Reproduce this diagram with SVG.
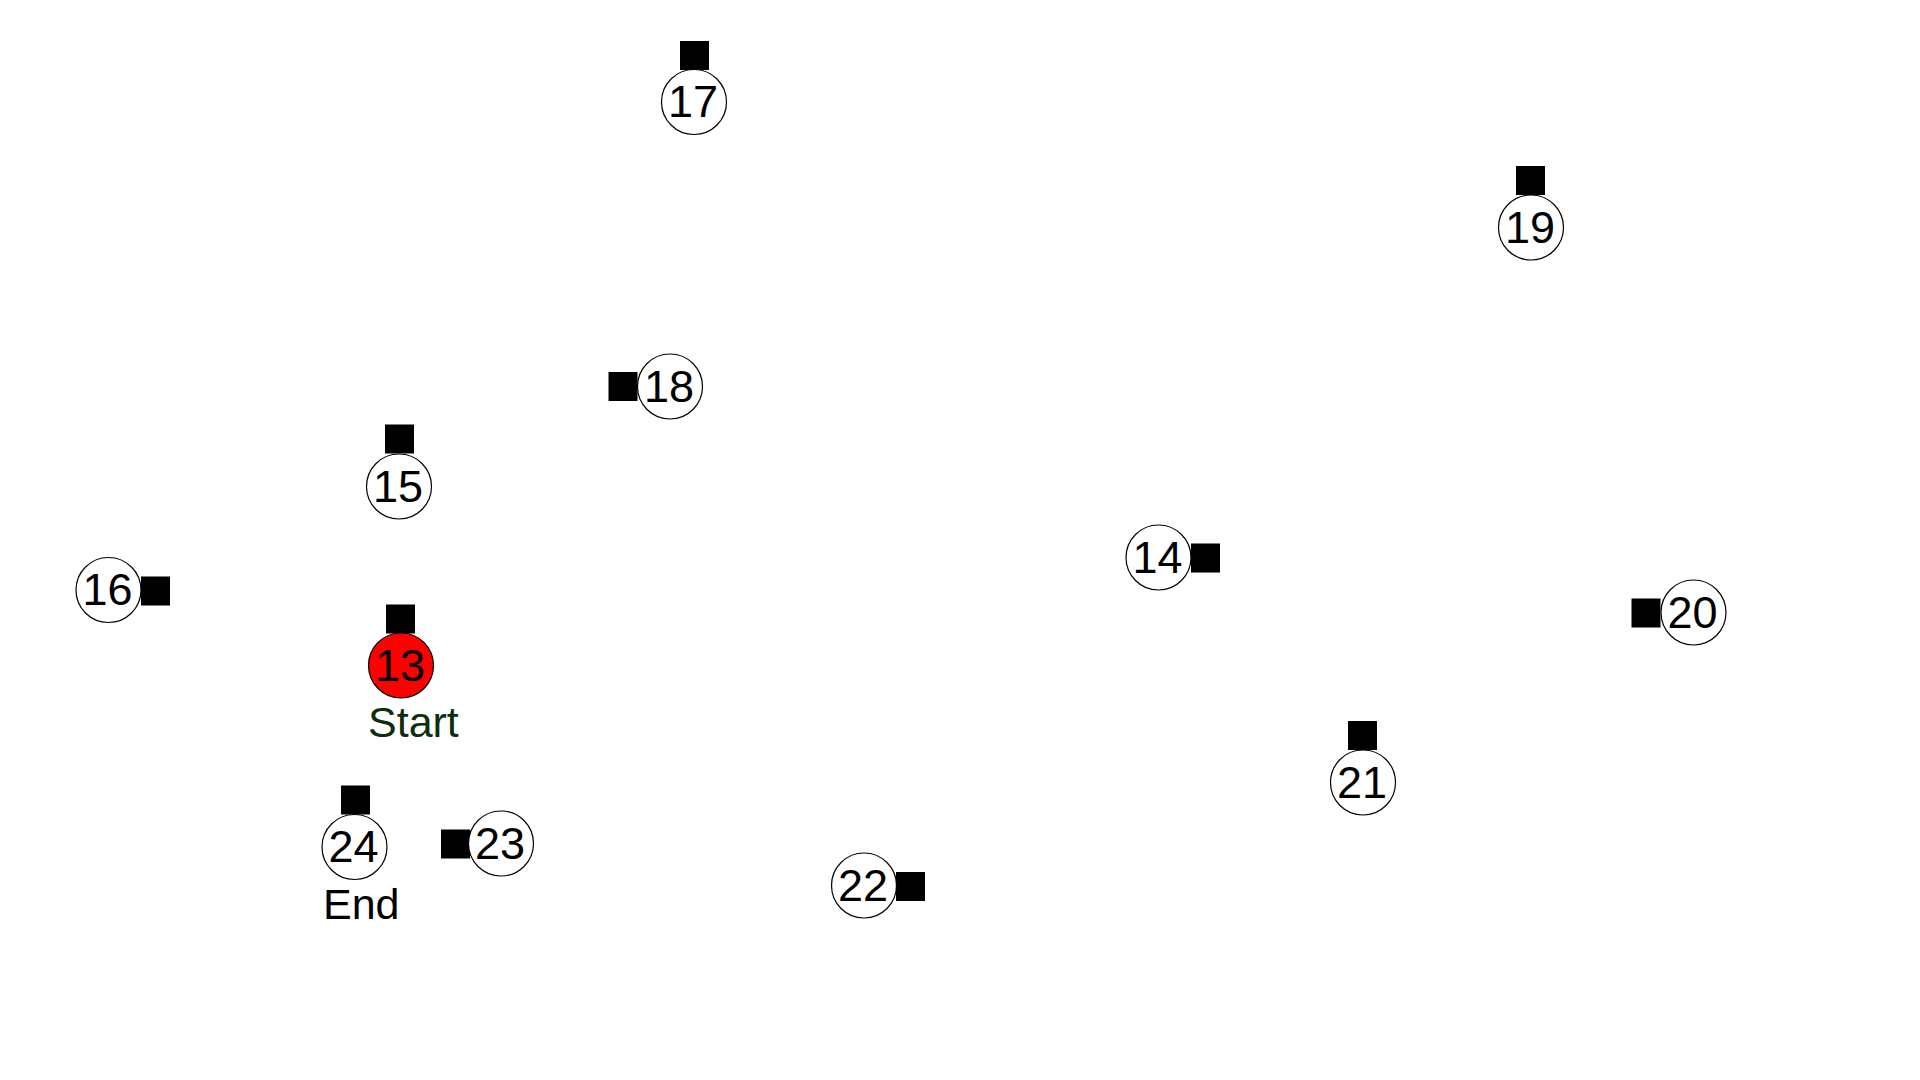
<svg xmlns="http://www.w3.org/2000/svg" width="1920" height="1080" viewBox="0 0 1920 1080">
<style>
.c{fill:#fff;stroke:#000;stroke-width:1.2}
.s{fill:#000}
.t{font-family:"Liberation Sans",Arial,sans-serif;font-size:45px;fill:#000;text-anchor:middle}
.l{font-family:"Liberation Sans",Arial,sans-serif;font-size:43px;fill:#000}
</style>
<rect width="1920" height="1080" fill="#fff"/>
<g id="connectors"></g>
<g id="n17"><rect class="s" x="680" y="41" width="29" height="29"/><circle class="c" cx="694" cy="102" r="32.5"/><text class="t" x="693" y="117">17</text></g>
<g id="n19"><rect class="s" x="1516" y="166" width="29" height="29"/><circle class="c" cx="1531" cy="227.5" r="32.5"/><text class="t" x="1530" y="243">19</text></g>
<g id="n18"><rect class="s" x="608.5" y="372" width="29" height="29"/><circle class="c" cx="670" cy="386.5" r="32.5"/><text class="t" x="669" y="402">18</text></g>
<g id="n15"><rect class="s" x="385" y="424.5" width="29" height="29"/><circle class="c" cx="399" cy="486.5" r="32.5"/><text class="t" x="398" y="502">15</text></g>
<g id="n16"><rect class="s" x="141" y="576.5" width="29" height="29"/><circle class="c" cx="108.5" cy="590" r="32.5"/><text class="t" x="107.5" y="605">16</text></g>
<g id="n14"><rect class="s" x="1191" y="543.5" width="29" height="29"/><circle class="c" cx="1158.5" cy="557.5" r="32.5"/><text class="t" x="1157.5" y="573">14</text></g>
<g id="n13"><rect class="s" x="386" y="604.5" width="29" height="29"/><circle cx="401" cy="665.5" r="32.5" fill="#ff0000" stroke="#000" stroke-width="1.2"/><text class="t" x="400" y="681">13</text><text class="l" x="368" y="737" style="fill:#0b2e0b">Start</text></g>
<g id="n20"><rect class="s" x="1631.5" y="598.5" width="29" height="29"/><circle class="c" cx="1693.5" cy="612.5" r="32.5"/><text class="t" x="1692.5" y="628">20</text></g>
<g id="n21"><rect class="s" x="1348" y="721" width="29" height="29"/><circle class="c" cx="1363" cy="782.5" r="32.5"/><text class="t" x="1362" y="798">21</text></g>
<g id="n24"><rect class="s" x="341" y="785.5" width="29" height="29"/><circle class="c" cx="354.5" cy="847" r="32.5"/><text class="t" x="353.5" y="862">24</text><text class="l" x="323" y="919">End</text></g>
<g id="n23"><rect class="s" x="441" y="829.5" width="29" height="29"/><circle class="c" cx="501" cy="843.5" r="32.5"/><text class="t" x="500" y="859">23</text></g>
<g id="n22"><rect class="s" x="896" y="872" width="29" height="29"/><circle class="c" cx="864" cy="885.5" r="32.5"/><text class="t" x="863" y="901">22</text></g>
</svg>
